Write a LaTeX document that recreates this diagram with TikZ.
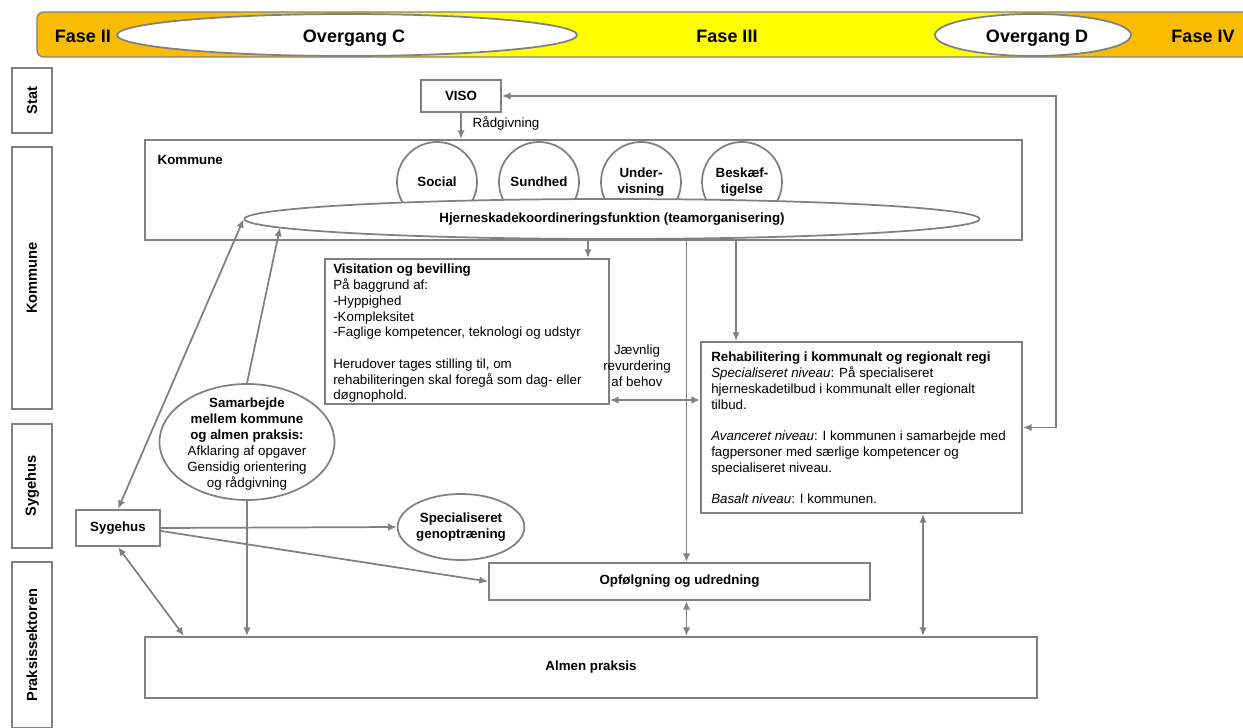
\documentclass[tikz,border=0pt]{standalone}
\usepackage{fontspec}
\setmainfont{Liberation Sans}
\usetikzlibrary{shapes.geometric,arrows.meta,calc}
\definecolor{ln}{RGB}{128,128,128}
\definecolor{org}{RGB}{250,188,0}
\definecolor{yel}{RGB}{255,255,0}
\begin{document}
\begin{tikzpicture}[x=0.75pt,y=-0.75pt,
  font=\fontsize{10}{11.8}\selectfont,
  box/.style={draw=ln, line width=1.5pt, fill=white, inner sep=0pt},
  lane/.style={box, rotate=90, font=\fontsize{11}{13}\selectfont\bfseries},
  conn/.style={draw=ln, line width=1.3pt, -{Latex[length=6.5pt,width=5.5pt]}},
  conntwo/.style={draw=ln, line width=1.3pt, {Latex[length=6.5pt,width=5.5pt]}-{Latex[length=6.5pt,width=5.5pt]}},
  phase/.style={font=\fontsize{13.5}{16}\selectfont\bfseries},
  oval/.style={ellipse, draw=ln, line width=1.3pt, fill=white, inner sep=0pt},
  ring/.style={circle, draw=ln, line width=1.3pt, fill=white, inner sep=0pt, minimum size=80*0.75pt, font=\bfseries, align=center},
  ]
\useasboundingbox (0,0) rectangle (1243,728);
\fill[white] (0,0) rectangle (1243,728);

% banner
\begin{scope}
\clip[rounded corners=5pt] (37,12) rectangle (1270,57);
\fill[org] (37,12) rectangle (216,57);
\shade[left color=org, right color=yel] (215,12) rectangle (430,57);
\fill[yel] (429,12) rectangle (986,57);
\shade[left color=yel, right color=org] (985,12) rectangle (1075,57);
\fill[org] (1074,12) rectangle (1270,57);
\end{scope}
\draw[ln, line width=1pt, rounded corners=5pt] (37,12) rectangle (1270,57);
\node[oval, minimum width=460*0.75pt, minimum height=42*0.75pt] (ovc) at (347,35) {};
\node[oval, minimum width=196*0.75pt, minimum height=42*0.75pt] (ovd) at (1033,35) {};
\node[phase, anchor=base] (f2) at (83,42) {Fase II};
\node[phase, anchor=base] (ovctxt) at (354,42) {Overgang C};
\node[phase, anchor=base] (f3) at (727,42) {Fase III};
\node[phase, anchor=base] (ovdtxt) at (1037,42) {Overgang D};
\node[phase, anchor=base] (f4) at (1203,42) {Fase IV};

% lanes
\node[lane, minimum width=65*0.75pt, minimum height=40*0.75pt] (lstat) at (32,100.5) {Stat};
\node[lane, minimum width=262*0.75pt, minimum height=40*0.75pt] (lkom) at (32,278) {Kommune};
\node[lane, minimum width=124*0.75pt, minimum height=40*0.75pt] (lsyg) at (32,486) {Sygehus};
\node[lane, minimum width=166*0.75pt, minimum height=40*0.75pt] (lpra) at (32,645) {Praksissektoren};

% kommune block
\node[box, minimum width=877*0.75pt, minimum height=100*0.75pt] (kom) at (583.5,190) {};
\node[anchor=west, font=\bfseries] (komlbl) at (153,160) {Kommune};
\node[ring] (social) at (437,182) {Social};
\node[ring] (sundhed) at (539,182) {Sundhed};
\node[ring] (under) at (641,182) {Under-\\visning};
\node[ring] (beskaef) at (742,182) {Beskæf-\\tigelse};
\node[oval, minimum width=735*0.75pt, minimum height=40*0.75pt, font=\bfseries] (hj) at (612,219) {Hjerneskadekoordineringsfunktion (teamorganisering)};

% VISO
\node[box, minimum width=80*0.75pt, minimum height=32*0.75pt, font=\bfseries] (viso) at (461,96) {VISO};
\node[anchor=west] (raad) at (468,124) {Rådgivning};

% Visitation
\node[box, minimum width=284*0.75pt, minimum height=145*0.75pt] (visit) at (467,331.5) {};
\node[anchor=north west, align=left, inner sep=0pt] (visittxt) at (333,264) {\textbf{Visitation og bevilling}\\
På baggrund af:\\
-Hyppighed\\
-Kompleksitet\\
-Faglige kompetencer, teknologi og udstyr\\[11.8pt]
Herudover tages stilling til, om\\
rehabiliteringen skal foregå som dag- eller\\
døgnophold.};

% Rehab
\node[box, minimum width=321*0.75pt, minimum height=171*0.75pt] (rehab) at (861.5,427.5) {};
\node[anchor=north west, align=left, inner sep=0pt] (rehabtxt) at (711,352) {\textbf{Rehabilitering i kommunalt og regionalt regi}\\
\textit{Specialiseret niveau}: På specialiseret\\
hjerneskadetilbud i kommunalt eller regionalt\\
tilbud.\\[11.8pt]
\textit{Avanceret niveau}: I kommunen i samarbejde med\\
fagpersoner med særlige kompetencer og\\
specialiseret niveau.\\[11.8pt]
\textit{Basalt niveau}: I kommunen.};

\node[align=center, font=\fontsize{10}{12}\selectfont] (jaev) at (637,366) {Jævnlig\\revurdering\\af behov};

% lower nodes
\node[box, minimum width=84*0.75pt, minimum height=36*0.75pt, font=\bfseries] (syg) at (118,528) {Sygehus};
\node[oval, minimum width=118*0.75pt, minimum height=66*0.75pt, font=\bfseries, align=center] (sg) at (461,527) {Specialiseret\\genoptræning};
\node[box, minimum width=381*0.75pt, minimum height=37*0.75pt, font=\bfseries] (opf) at (679.5,581.5) {Opfølgning og udredning};
\node[box, minimum width=892*0.75pt, minimum height=61*0.75pt, font=\bfseries] (almen) at (591,667.5) {Almen praksis};
\node[oval, minimum width=175*0.75pt, minimum height=116*0.75pt] (samarb) at (247,442) {};
\node[align=center, font=\fontsize{10}{12}\selectfont] (samtxt) at (247,444) {\textbf{Samarbejde}\\\textbf{mellem kommune}\\\textbf{og almen praksis:}\\Afklaring af opgaver\\Gensidig orientering\\og rådgivning};

% helper coordinates
\coordinate (cv) at ($(visit.north east)+(-22,0)$);
\coordinate (co) at ($(opf.north)+(7,0)$);
\coordinate (cr) at ($(rehab.north west)+(36,0)$);
\coordinate (cj) at ($(visit.south east)+(0,-5)$);
\coordinate (cb) at ($(rehab.south west)+(223,0)$);
\coordinate (ca) at ($(almen.north west)+(40,0)$);
\coordinate (hjb) at ($(hj.center)+(-332,8.6)$);

% connectors
\draw[conn] (viso.south) -- (viso.south |- kom.north);
\draw[conn] (kom.south -| cv) -- (cv);
\draw[conn] (kom.south -| co) -- (co);
\draw[conn] (kom.south -| cr) -- (cr);
\draw[conntwo] (cj) -- (rehab.west |- cj);
\draw[conntwo] (rehab.east) -- ++(33,0) |- (viso.east);
\draw[conntwo] (opf.south -| co) -- (almen.north -| co);
\draw[conntwo] (cb) -- (almen.north -| cb);
\draw[conn] (syg.east) -- (sg.west);
\draw[conn] ($(syg.east)+(0,3)$) -- (opf.west);
\draw[conntwo] (syg.south) -- (ca);
\draw[conntwo] (syg.north) -- (hj.west);
\draw[conn] (samarb.north) -- (hjb);
\draw[conn] (samarb.south) -- (almen.north -| samarb.south);
\end{tikzpicture}
\end{document}
